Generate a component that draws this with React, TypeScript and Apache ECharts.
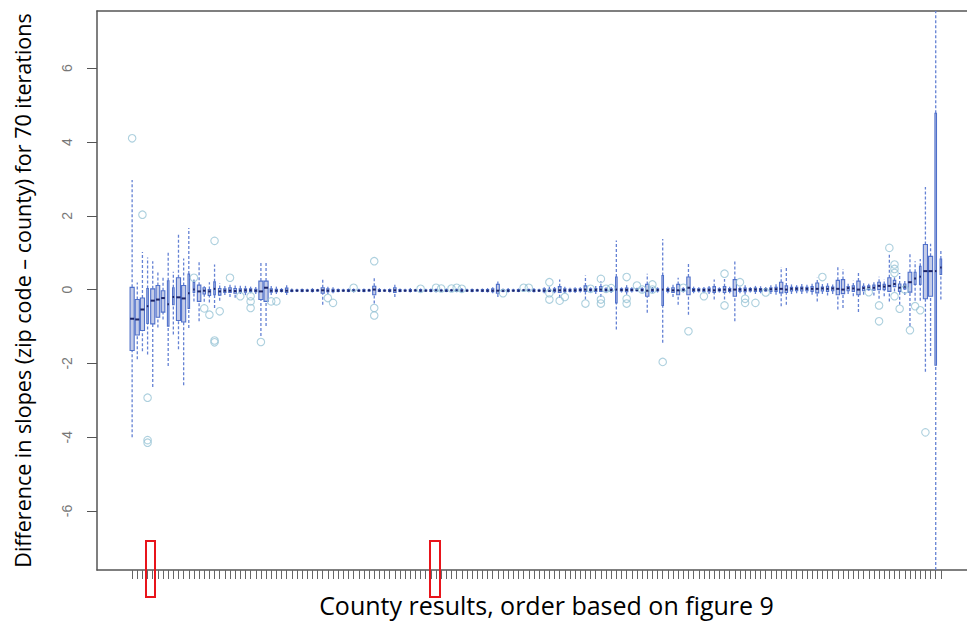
import React, { useEffect, useRef } from "react";
import * as echarts from "echarts";

const xTitle = "County results, order based on figure 9";
const yTitle = "Difference in slopes (zip code – county) for 70 iterations";
const yTicks = [-6, -4, -2, 0, 2, 4, 6];
const yMin = -7.6;
const yMax = 7.55;

// [n, lowerWhisker, q1, median, q3, upperWhisker] per county, left to right
const boxStats: number[][] = [
  [70, -4.0, -1.65, -0.79, 0.06, 2.97],
  [70, -1.89, -1.23, -0.81, -0.27, 0.19],
  [70, -1.67, -1.11, -0.54, -0.23, 1.02],
  [10, -1.76, -0.92, -0.45, 0.03, 0.87],
  [70, -2.64, -0.93, -0.3, 0.02, 0.77],
  [55, -1.03, -0.75, -0.27, 0.11, 0.51],
  [55, -0.81, -0.61, -0.23, -0.03, 0.33],
  [10, -2.07, -0.99, -0.4, 0.24, 1.02],
  [10, -1.22, -0.41, -0.2, 0.05, 0.48],
  [70, -1.62, -0.84, -0.21, 0.32, 1.49],
  [70, -2.59, -0.88, -0.24, 0.11, 0.84],
  [10, -1.04, -0.51, -0.1, 0.42, 1.67],
  [10, -0.32, -0.08, 0.0, 0.19, 0.27],
  [50, -0.86, -0.32, -0.05, 0.12, 0.75],
  [25, -0.33, -0.12, -0.03, 0.05, 0.09],
  [25, -0.35, -0.16, -0.05, 0.0, 0.2],
  [10, -0.5, -0.14, 0.02, 0.21, 0.68],
  [25, -0.3, -0.15, -0.05, 0.03, 0.18],
  [20, -0.15, -0.08, -0.03, 0.02, 0.1],
  [25, -0.2, -0.08, -0.03, 0.05, 0.18],
  [25, -0.22, -0.1, -0.04, 0.03, 0.13],
  [20, -0.12, -0.07, -0.03, 0.02, 0.12],
  [20, -0.15, -0.07, -0.02, 0.02, 0.14],
  [20, -0.1, -0.05, -0.02, 0.02, 0.08],
  [20, -0.12, -0.06, -0.03, 0.01, 0.07],
  [70, -1.26, -0.27, -0.05, 0.23, 0.77],
  [70, -0.99, -0.32, 0.05, 0.23, 0.72],
  [20, -0.15, -0.07, -0.03, 0.02, 0.1],
  [20, -0.12, -0.06, -0.03, 0.01, 0.08],
  [20, -0.08, -0.05, -0.03, 0.0, 0.04],
  [25, -0.15, -0.08, -0.03, 0.04, 0.12],
  [20, -0.07, -0.05, -0.03, -0.01, 0.03],
  [20, -0.06, -0.04, -0.03, -0.01, 0.02],
  [20, -0.07, -0.05, -0.03, 0.0, 0.03],
  [20, -0.06, -0.04, -0.03, -0.01, 0.02],
  [20, -0.08, -0.05, -0.03, 0.0, 0.04],
  [20, -0.06, -0.04, -0.02, -0.01, 0.02],
  [40, -0.41, -0.1, -0.02, 0.05, 0.27],
  [20, -0.12, -0.06, -0.03, 0.02, 0.08],
  [20, -0.1, -0.06, -0.03, 0.01, 0.06],
  [20, -0.07, -0.05, -0.03, 0.0, 0.03],
  [20, -0.06, -0.04, -0.03, -0.01, 0.02],
  [20, -0.07, -0.05, -0.03, 0.0, 0.03],
  [20, -0.08, -0.05, -0.03, 0.0, 0.03],
  [20, -0.06, -0.04, -0.03, -0.01, 0.02],
  [20, -0.07, -0.05, -0.03, 0.0, 0.03],
  [20, -0.06, -0.04, -0.02, -0.01, 0.02],
  [40, -0.38, -0.14, 0.0, 0.09, 0.36],
  [20, -0.07, -0.05, -0.03, 0.0, 0.04],
  [20, -0.06, -0.04, -0.03, -0.01, 0.02],
  [20, -0.08, -0.05, -0.03, 0.0, 0.03],
  [25, -0.2, -0.08, -0.02, 0.05, 0.15],
  [20, -0.07, -0.05, -0.03, 0.0, 0.03],
  [20, -0.06, -0.04, -0.03, -0.01, 0.02],
  [20, -0.08, -0.05, -0.03, 0.0, 0.04],
  [20, -0.06, -0.04, -0.02, -0.01, 0.02],
  [20, -0.07, -0.05, -0.03, 0.0, 0.03],
  [20, -0.06, -0.04, -0.03, -0.01, 0.02],
  [20, -0.07, -0.05, -0.03, 0.0, 0.03],
  [20, -0.08, -0.05, -0.03, 0.0, 0.03],
  [20, -0.06, -0.04, -0.03, -0.01, 0.02],
  [20, -0.07, -0.05, -0.03, 0.0, 0.03],
  [20, -0.06, -0.04, -0.02, -0.01, 0.02],
  [20, -0.07, -0.05, -0.03, 0.0, 0.03],
  [20, -0.08, -0.05, -0.03, 0.0, 0.04],
  [20, -0.06, -0.04, -0.03, -0.01, 0.02],
  [20, -0.07, -0.05, -0.03, 0.0, 0.03],
  [20, -0.06, -0.04, -0.02, -0.01, 0.02],
  [20, -0.07, -0.05, -0.03, 0.0, 0.03],
  [20, -0.08, -0.05, -0.03, 0.0, 0.04],
  [20, -0.1, -0.06, -0.03, 0.02, 0.06],
  [35, -0.2, -0.1, -0.03, 0.14, 0.25],
  [20, -0.07, -0.05, -0.03, 0.0, 0.03],
  [20, -0.08, -0.05, -0.03, 0.0, 0.04],
  [20, -0.06, -0.04, -0.03, -0.01, 0.02],
  [20, -0.07, -0.05, -0.03, 0.0, 0.03],
  [20, -0.06, -0.04, -0.02, -0.01, 0.02],
  [20, -0.07, -0.05, -0.03, 0.0, 0.03],
  [20, -0.08, -0.05, -0.03, 0.0, 0.04],
  [20, -0.06, -0.04, -0.03, -0.01, 0.02],
  [20, -0.1, -0.06, -0.03, 0.02, 0.06],
  [20, -0.07, -0.05, -0.03, 0.01, 0.08],
  [20, -0.1, -0.06, -0.02, 0.02, 0.07],
  [30, -0.22, -0.08, -0.02, 0.08, 0.27],
  [20, -0.1, -0.06, -0.02, 0.02, 0.08],
  [20, -0.08, -0.05, -0.02, 0.01, 0.05],
  [20, -0.09, -0.05, -0.02, 0.02, 0.06],
  [20, -0.08, -0.04, -0.01, 0.02, 0.06],
  [30, -0.27, -0.05, 0.0, 0.1, 0.38],
  [20, -0.08, -0.04, -0.01, 0.02, 0.06],
  [20, -0.12, -0.05, -0.01, 0.03, 0.1],
  [25, -0.2, -0.05, 0.0, 0.08, 0.23],
  [20, -0.08, -0.04, -0.01, 0.02, 0.06],
  [20, -0.09, -0.05, -0.01, 0.02, 0.07],
  [10, -1.08, -0.36, 0.0, 0.34, 1.33],
  [20, -0.08, -0.04, -0.01, 0.02, 0.06],
  [25, -0.14, -0.06, -0.01, 0.04, 0.12],
  [20, -0.08, -0.04, -0.01, 0.02, 0.06],
  [20, -0.06, -0.03, -0.01, 0.02, 0.05],
  [20, -0.08, -0.04, -0.01, 0.02, 0.06],
  [45, -0.63, -0.18, -0.03, 0.14, 0.43],
  [20, -0.09, -0.05, -0.01, 0.02, 0.07],
  [20, -0.08, -0.04, -0.01, 0.02, 0.06],
  [10, -1.44, -0.43, 0.0, 0.38, 1.37],
  [20, -0.1, -0.05, -0.01, 0.03, 0.08],
  [25, -0.2, -0.08, -0.02, 0.05, 0.15],
  [35, -0.41, -0.14, -0.02, 0.14, 0.32],
  [20, -0.08, -0.04, -0.01, 0.02, 0.06],
  [45, -0.68, -0.14, 0.05, 0.34, 0.72],
  [20, -0.1, -0.05, -0.01, 0.03, 0.08],
  [20, -0.08, -0.04, -0.01, 0.02, 0.06],
  [20, -0.1, -0.05, -0.01, 0.02, 0.07],
  [20, -0.12, -0.06, -0.01, 0.04, 0.1],
  [25, -0.27, -0.08, -0.02, 0.08, 0.27],
  [20, -0.08, -0.04, -0.01, 0.02, 0.06],
  [25, -0.27, -0.08, 0.0, 0.08, 0.29],
  [20, -0.1, -0.05, -0.01, 0.03, 0.08],
  [45, -0.86, -0.18, 0.0, 0.27, 0.77],
  [20, -0.1, -0.05, 0.0, 0.03, 0.08],
  [20, -0.14, -0.06, -0.01, 0.04, 0.12],
  [20, -0.08, -0.04, 0.0, 0.03, 0.07],
  [20, -0.12, -0.05, 0.0, 0.04, 0.1],
  [20, -0.1, -0.05, 0.0, 0.03, 0.09],
  [20, -0.06, -0.04, 0.0, 0.03, 0.07],
  [20, -0.12, -0.05, 0.01, 0.05, 0.12],
  [20, -0.14, -0.05, 0.01, 0.06, 0.15],
  [45, -0.45, -0.09, 0.02, 0.2, 0.61],
  [25, -0.41, -0.08, 0.0, 0.1, 0.59],
  [20, -0.12, -0.04, 0.02, 0.06, 0.14],
  [20, -0.1, -0.03, 0.02, 0.06, 0.12],
  [20, -0.12, -0.04, 0.03, 0.07, 0.15],
  [20, -0.1, -0.03, 0.02, 0.06, 0.13],
  [20, -0.14, -0.05, 0.02, 0.08, 0.18],
  [35, -0.32, -0.09, 0.02, 0.18, 0.32],
  [20, -0.12, -0.04, 0.03, 0.07, 0.15],
  [20, -0.16, -0.05, 0.02, 0.09, 0.2],
  [20, -0.12, -0.03, 0.03, 0.07, 0.14],
  [45, -0.54, -0.14, 0.02, 0.25, 0.61],
  [45, -0.5, -0.11, 0.0, 0.27, 0.56],
  [20, -0.12, -0.03, 0.04, 0.08, 0.16],
  [20, -0.18, -0.05, 0.03, 0.1, 0.24],
  [45, -0.61, -0.14, 0.0, 0.23, 0.5],
  [20, -0.14, -0.03, 0.04, 0.09, 0.18],
  [20, -0.03, 0.0, 0.05, 0.1, 0.16],
  [20, -0.16, -0.02, 0.05, 0.12, 0.22],
  [30, -0.25, 0.0, 0.1, 0.2, 0.35],
  [20, -0.18, 0.0, 0.08, 0.14, 0.28],
  [40, -0.32, -0.05, 0.1, 0.32, 0.95],
  [25, -0.05, 0.08, 0.15, 0.25, 0.38],
  [25, -0.41, -0.05, 0.05, 0.15, 0.45],
  [20, -0.15, 0.02, 0.08, 0.15, 0.25],
  [55, -0.99, -0.07, 0.2, 0.47, 0.97],
  [15, -0.3, 0.14, 0.3, 0.47, 0.77],
  [10, -0.3, 0.14, 0.35, 0.63, 0.83],
  [70, -2.23, -0.25, 0.5, 1.22, 2.78],
  [70, -1.8, -0.18, 0.5, 0.9, 1.24],
  [10, -7.6, -2.05, 0.5, 4.78, 7.55],
  [10, -0.27, 0.41, 0.6, 0.83, 1.08],
];

// [county index (1-based), value]
const outliers: number[][] = [
  [1, 4.1], [3, 2.03], [4, -2.93], [4, -4.08], [4, -4.15],
  [13, 0.32], [15, -0.51], [16, -0.68], [17, 1.32], [17, -1.38], [17, -1.43],
  [18, -0.59], [20, 0.32], [22, -0.18], [24, -0.18], [24, -0.32], [24, -0.5],
  [26, -1.42], [28, -0.32], [29, -0.32], [39, -0.23], [40, -0.36], [44, 0.05],
  [48, 0.77], [48, -0.5], [48, -0.7], [57, 0.02], [60, 0.05], [61, 0.03],
  [63, 0.03], [64, 0.05], [65, 0.02], [73, -0.1], [77, 0.05], [78, 0.05],
  [82, 0.2], [82, -0.1], [82, -0.27], [84, -0.3], [85, -0.2], [89, -0.38],
  [90, 0.02], [92, 0.29], [92, -0.27], [92, -0.38], [93, 0.02], [94, 0.04],
  [97, 0.34], [97, -0.25], [97, -0.38], [99, 0.11], [100, 0.0], [102, 0.14],
  [102, 0.0], [104, -1.96], [108, 0.05], [109, -1.13], [112, -0.18], [116, 0.43],
  [116, -0.43], [119, 0.2], [120, -0.25], [120, -0.36], [122, -0.36], [124, -0.08],
  [135, 0.34], [144, -0.07], [146, -0.43], [146, -0.86], [148, 1.13],
  [149, 0.68], [149, 0.56], [149, 0.45], [149, -0.18], [150, -0.52], [151, 0.0],
  [152, -1.1], [153, -0.45], [154, -0.56], [155, -3.87],
];

export default function App() {
  const ref = useRef<HTMLDivElement>(null);
  useEffect(() => {
    document.body.style.margin = "0";
    const chart = echarts.init(ref.current!, null, { renderer: "svg" });
    const N = boxStats.length;
    const pad = 0.5 + 0.04 * N;
    const xMin = 1 - pad;
    // the plot region continues past the right edge of the picture
    const xMax = xMin + (N - 1 + 2 * pad) * (870 / 879);
    const maxN = Math.max(...boxStats.map((b) => b[0]));
    const data = boxStats.map((b, i) => [i + 1, b[1], b[2], b[3], b[4], b[5], b[0]]);
    const whiskerColor = "#6582d4";
    const boxStroke = "#4f70ca";
    const boxFill = "#c4cce8";
    const medianColor = "#1c2466";
    const frame = { color: "#555", width: 1.5 };

    chart.setOption({
      animation: false,
      grid: { left: 97, right: 0, top: 11, bottom: 51, show: false },
      xAxis: [
        {
          type: "value",
          min: xMin,
          max: xMax,
          splitLine: { show: false },
          axisLine: { show: true, onZero: false, lineStyle: frame },
          axisTick: {
            show: true,
            customValues: data.map((d) => d[0]),
            length: 9,
            lineStyle: { color: "#666", width: 1 },
          },
          axisLabel: { show: false },
          name: xTitle,
          nameLocation: "middle",
          nameGap: 22,
          nameTextStyle: {
            fontFamily: "Open Sans",
            fontSize: 25,
            color: "#000",
            verticalAlign: "top",
            padding: [0, 0, 0, 29],
          },
        },
        {
          type: "value",
          position: "top",
          min: xMin,
          max: xMax,
          splitLine: { show: false },
          axisLine: { show: true, onZero: false, lineStyle: frame },
          axisTick: { show: false },
          axisLabel: { show: false },
        },
      ],
      yAxis: {
        type: "value",
        min: yMin,
        max: yMax,
        splitLine: { show: false },
        axisLine: { show: true, onZero: false, lineStyle: frame },
        axisTick: {
          show: true,
          customValues: yTicks,
          length: 10,
          lineStyle: { color: "#555", width: 1 },
        },
        axisLabel: {
          customValues: yTicks,
          rotate: 90,
          margin: 23,
          color: "#777",
          fontSize: 14,
          fontFamily: "Liberation Sans",
        },
        name: yTitle,
        nameLocation: "middle",
        nameRotate: 90,
        nameGap: 64,
        nameTextStyle: {
          fontFamily: "Open Sans",
          fontSize: 21.5,
          color: "#000",
        },
      },
      series: [
        {
          type: "custom",
          data,
          dimensions: ["x", "low", "q1", "med", "q3", "high", "n"],
          encode: { x: 0, y: [1, 2, 3, 4, 5] },
          clip: true,
          renderItem: (params: any, api: any) => {
            const x = api.value(0);
            const n = api.value(6);
            const unit = api.size([1, 0])[0];
            const w = unit * 0.8 * Math.sqrt(n / maxN);
            const pLow = api.coord([x, api.value(1)]);
            const pQ1 = api.coord([x, api.value(2)]);
            const pMed = api.coord([x, api.value(3)]);
            const pQ3 = api.coord([x, api.value(4)]);
            const pHigh = api.coord([x, api.value(5)]);
            const cx = pQ1[0];
            return {
              type: "group",
              children: [
                {
                  type: "line",
                  shape: { x1: cx, y1: pLow[1], x2: cx, y2: pQ1[1] },
                  style: { stroke: whiskerColor, lineWidth: 1.3, lineDash: [3, 2] },
                },
                {
                  type: "line",
                  shape: { x1: cx, y1: pQ3[1], x2: cx, y2: pHigh[1] },
                  style: { stroke: whiskerColor, lineWidth: 1.3, lineDash: [3, 2] },
                },
                {
                  type: "rect",
                  shape: { x: cx - w / 2, y: pQ3[1], width: w, height: Math.max(pQ1[1] - pQ3[1], 0.5) },
                  style: { fill: boxFill, stroke: boxStroke, lineWidth: 1.1 },
                },
                {
                  type: "line",
                  shape: { x1: cx - w / 2, y1: pMed[1], x2: cx + w / 2, y2: pMed[1] },
                  style: { stroke: medianColor, lineWidth: 2 },
                },
              ],
            };
          },
          z: 2,
        },
        {
          type: "scatter",
          data: outliers,
          symbol: "circle",
          symbolSize: 7.5,
          itemStyle: { color: "none", borderColor: "#98c4d6", borderWidth: 1.1 },
          z: 3,
        },
      ],
      graphic: [
        {
          type: "rect",
          shape: { x: 146, y: 541, width: 9, height: 56 },
          style: { fill: "none", stroke: "#e8141b", lineWidth: 2 },
          z: 10,
        },
        {
          type: "rect",
          shape: { x: 430, y: 541, width: 10, height: 56 },
          style: { fill: "none", stroke: "#e8141b", lineWidth: 2 },
          z: 10,
        },
      ],
    });
    return () => chart.dispose();
  }, []);
  return <div ref={ref} style={{ width: 967, height: 622 }} />;
}
